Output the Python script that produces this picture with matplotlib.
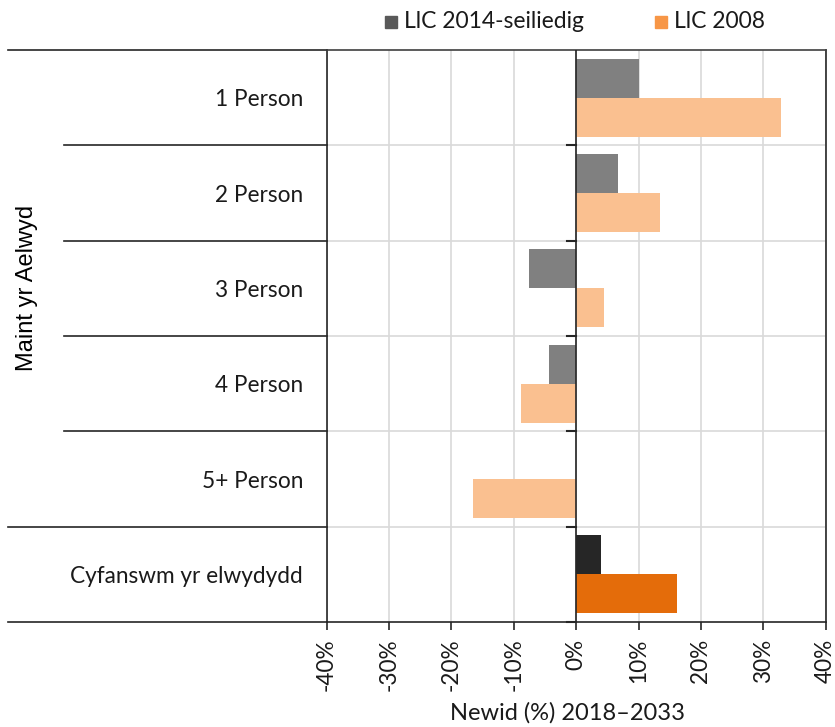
import matplotlib
matplotlib.use("Agg")
import matplotlib.pyplot as plt
import matplotlib.transforms as mtransforms
from matplotlib.patches import Rectangle
import numpy as np

categories = ["1 Person", "2 Person", "3 Person", "4 Person", "5+ Person", "Cyfanswm yr elwydydd"]
series_2014 = [10.15, 6.7, -7.6, -4.3, 0.0, 4.0]
series_2008 = [32.9, 13.5, 4.4, -8.8, -16.5, 16.2]
legend_labels = ["LlC 2014-seiliedig", "LlC 2008"]
group_label = "Maint yr Aelwyd"
xlabel = "Newid (%) 2018\u20132033"
xticks = [-40, -30, -20, -10, 0, 10, 20, 30, 40]

col_2014 = ["#808080"] * 5 + ["#262626"]
col_2008 = ["#FAC090"] * 5 + ["#E46C0A"]
leg_cols = ["#595959", "#F79646"]

W, H = 835, 727
fig = plt.figure(figsize=(W / 100, H / 100), dpi=100)
L, R, T, B = 326.5, 825.7, 50, 622
ax = fig.add_axes([L / W, 1 - B / H, (R - L) / W, (B - T) / H])

font_main = ["Lato", "DejaVu Sans"]
fs = 16.3
txtc = "#1a1a1a"

n = len(categories)
y = np.arange(n)
bh = 0.41
ax.barh(y - bh / 2, series_2014, height=bh, color=col_2014, zorder=3)
ax.barh(y + bh / 2, series_2008, height=bh, color=col_2008, zorder=3)

ax.set_xlim(-40, 40)
ax.set_ylim(n - 0.5, -0.5)

# gridlines
for xv in xticks:
    ax.axvline(xv, color="#D9D9D9", lw=1.2, zorder=1)
bounds = np.arange(n + 1) - 0.5
for b in bounds[1:-1]:
    ax.axhline(b, color="#D9D9D9", lw=1.2, zorder=1)
ax.axvline(0, color="#262626", lw=1.2, zorder=4)

# small ticks on zero line at category boundaries
tick_len = 9 / ((R - L) / 80)
for b in bounds[1:]:
    ax.plot([-tick_len, 0], [b, b], color="#262626", lw=1.5, zorder=4, clip_on=False)

for s in ax.spines.values():
    s.set_color("#262626")
    s.set_linewidth(1.2)
ax.spines["top"].set_color("#404040")

ax.set_xticks(xticks)
ax.set_xticklabels([f"{v}%" for v in xticks], rotation=90, fontsize=16.3,
                   family=font_main, color=txtc)
ax.tick_params(axis="x", length=6, width=1.2, color="#262626", pad=6)

ax.set_yticks(y)
ax.set_yticklabels(categories, fontsize=fs, family=font_main, color=txtc)
ax.tick_params(axis="y", length=0, pad=17)

# multi-level category separators
tr = mtransforms.blended_transform_factory(fig.transFigure, ax.transData)
x_outer = 8 / W
x_inner = 64 / W
for i, b in enumerate(bounds):
    x0 = x_outer if i in (0, 5, 6) else x_inner
    ax.plot([x0, L / W], [b, b], transform=tr, color="#262626", lw=1.2, clip_on=False)

# group label (centred over the first five categories)
ycen = (bounds[0] + bounds[5]) / 2
ax.text(27 / W, ycen, group_label, transform=tr, rotation=90, ha="center", va="center",
        fontsize=17, family=["Liberation Sans", "DejaVu Sans"], color="black")

# x axis title
fig.text(568 / W, 1 - 713 / H, xlabel, ha="center", va="center", fontsize=17,
         family=font_main, color=txtc)

# legend
leg_y = 1 - 22 / H
sq = 12
xs = [385, 655]
for xi, lab, c in zip(xs, legend_labels, leg_cols):
    fig.patches.append(Rectangle((xi / W, leg_y - sq / 2 / H), sq / W, sq / H,
                                 transform=fig.transFigure, color=c))
    fig.text((xi + sq + 7) / W, leg_y, lab, ha="left", va="center", fontsize=16.5,
             family=font_main, color=txtc)

fig.savefig("out.png", dpi=100)
